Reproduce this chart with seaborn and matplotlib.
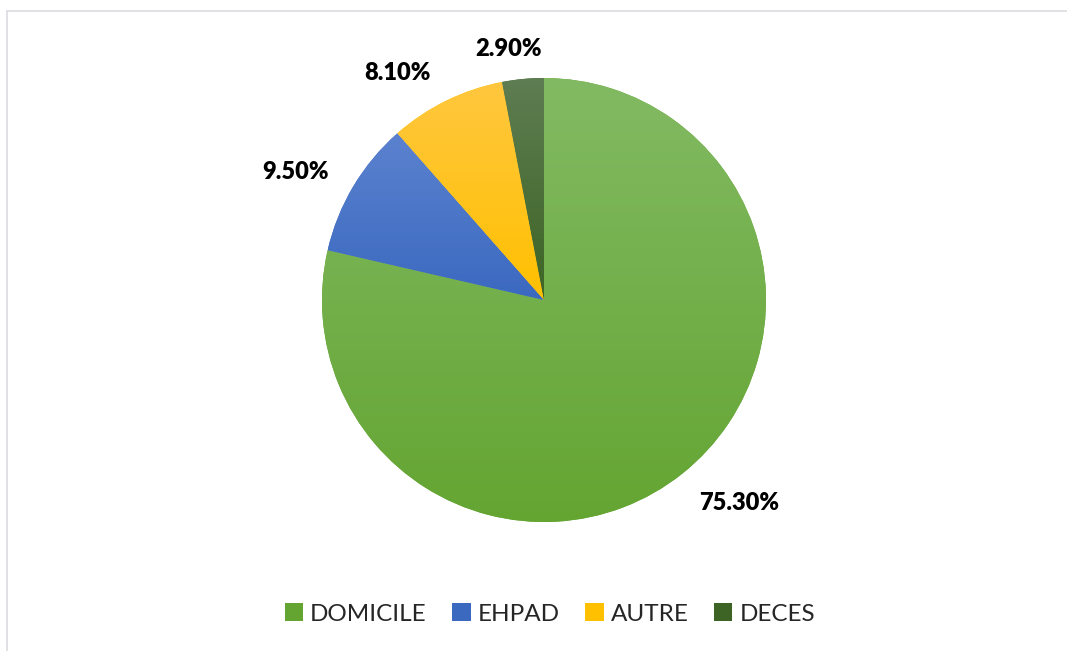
import numpy as np
import matplotlib
matplotlib.use("Agg")
import matplotlib.pyplot as plt
import seaborn as sns
from matplotlib.colors import LinearSegmentedColormap, to_rgb
from matplotlib.patches import Rectangle

sns.set_theme(style="white")
plt.rcParams['font.family'] = ['Lato', 'DejaVu Sans']

categories = ["DOMICILE", "EHPAD", "AUTRE", "DECES"]
values = [75.3, 9.5, 8.1, 2.9]
labels = ["75.30%", "9.50%", "8.10%", "2.90%"]
colors_top = ["#82ba63", "#5b82cf", "#ffc73f", "#5e7d52"]
colors_bottom = ["#64a532", "#3b69c0", "#ffc000", "#3d6424"]
label_dist = [1.268, 1.261, 1.218, 1.141]
label_angle_shift = [5.3, 3.6, 6.8, 2.5]

W, H = 1067, 651
fig = plt.figure(figsize=(W / 100, H / 100), dpi=100)
cx, cy, r = 544, 300, 222
half = 300
ax = fig.add_axes([(cx - half) / W, (H - cy - half) / H, 2 * half / W, 2 * half / H])
lim = half / r

wedges, _ = ax.pie(values, colors=colors_bottom, startangle=90, counterclock=False,
                   wedgeprops=dict(linewidth=0, antialiased=True))
ax.set_xlim(-lim, lim)
ax.set_ylim(-lim, lim)
ax.set_aspect('equal')
ax.axis('off')

# vertical gradient fills clipped to wedges
for w, ct, cb in zip(wedges, colors_top, colors_bottom):
    path = w.get_path().transformed(w.get_patch_transform())
    ext = path.get_extents()
    cmap = LinearSegmentedColormap.from_list("g", [to_rgb(cb), to_rgb(ct)])
    grad = np.linspace(0, 1, 256).reshape(-1, 1)
    im = ax.imshow(grad, cmap=cmap, origin='lower', aspect='auto',
                   extent=[ext.x0, ext.x1, ext.y0, ext.y1], zorder=w.get_zorder() + 0.1,
                   interpolation='bilinear')
    im.set_clip_path(w)
ax.set_xlim(-lim, lim)
ax.set_ylim(-lim, lim)

for w, lab, d, sh in zip(wedges, labels, label_dist, label_angle_shift):
    ang = np.deg2rad((w.theta1 + w.theta2) / 2 + sh)
    ax.text(d * np.cos(ang), d * np.sin(ang), lab, ha='center', va='center',
            fontsize=17, fontweight='heavy', color='black', clip_on=False)

leg = fig.legend(wedges, categories, loc='center', bbox_to_anchor=(550 / W, 1 - 614 / H),
                 ncol=4, frameon=False, fontsize=17.5, handlelength=0.75, handleheight=0.75,
                 handletextpad=0.3, columnspacing=1.05)

fig.patches.append(Rectangle((7 / W, -0.1), 1.2, (H - 11) / H + 0.1, transform=fig.transFigure,
                             fill=False, edgecolor='#d9dce0', linewidth=1.2, zorder=-1))

fig.savefig("out.png", dpi=100, facecolor='white')
